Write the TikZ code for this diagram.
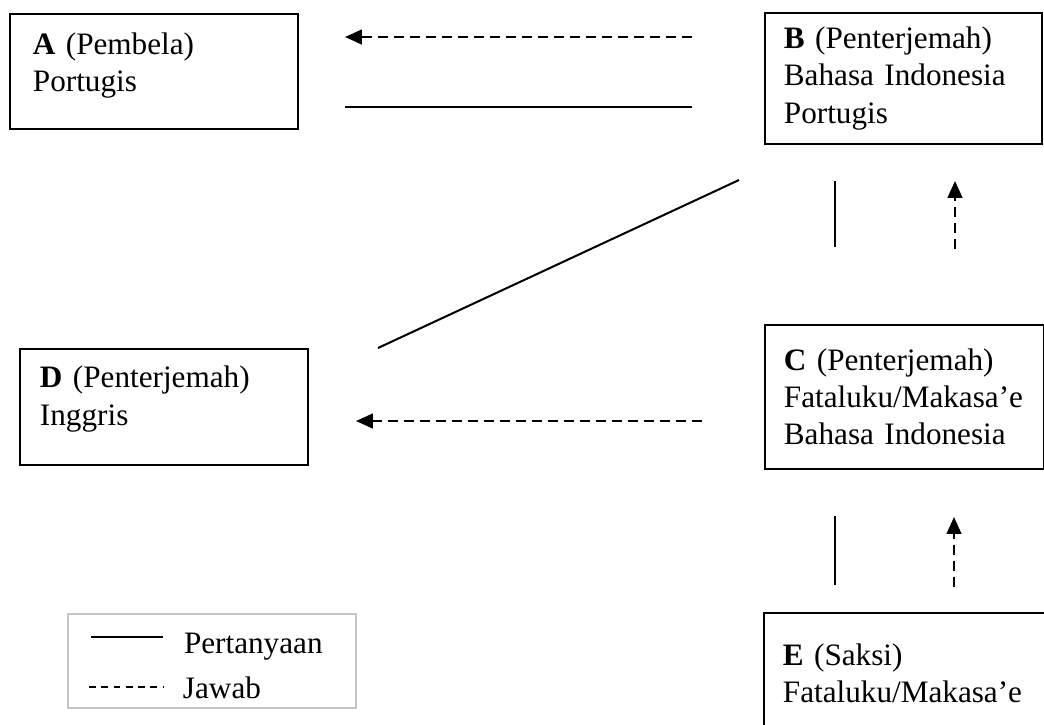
\documentclass[tikz,border=0pt]{standalone}
\usepackage{fontspec}
\setmainfont{Liberation Serif}
\usetikzlibrary{arrows.meta,positioning}
\hyphenpenalty=10000\relax

\begin{document}
\begin{tikzpicture}[x=0.375pt,y=-0.375pt,line width=0.75pt,
   >={Triangle[length=6.3pt,width=5.5pt]},
   every node/.style={font=\fontsize{11.7}{13.9}\selectfont},
   box/.style={draw,rectangle,anchor=north west,align=left,inner ysep=0pt},
   jawab/.style={->,dash pattern=on 3.6pt off 2.4pt}]
   \useasboundingbox (0,0) rectangle (1044,724);
   \clip (0,0) rectangle (1044,724);
   \node[box,inner xsep=8.6pt,text width=90.8pt,minimum height=43.1pt,text depth=20.9pt] (A) at (9,13) {\textbf{A} (Pembela)\\Portugis};
   \node[box,inner xsep=7.1pt,text width=89.7pt,minimum height=49.1pt] (B) at (764,12) {\textbf{B} (Penterjemah)\\Bahasa Indonesia\\Portugis};
   \node[box,inner xsep=7.1pt,text width=90.4pt,minimum height=54pt] (C) at (764,324) {\textbf{C} (Penterjemah)\\Fataluku/Makasa’e\\Bahasa Indonesia};
   \node[box,inner xsep=7.5pt,text width=93pt,minimum height=43.5pt,text depth=22.4pt] (D) at (19,348) {\textbf{D} (Penterjemah)\\Inggris};
   \node[box,inner xsep=7.1pt,text width=97.2pt,minimum height=45pt] (E) at (763,612) {\textbf{E} (Saksi)\\Fataluku/Makasa’e};
   \node[box,draw=gray!45,minimum width=108pt,minimum height=35.25pt,inner sep=0pt] (legenda) at (67,613) {};
   \coordinate (ab1) at (692,37);  \coordinate (ab2) at (345,37);
   \coordinate (ab3) at (345,107); \coordinate (ab4) at (692,107);
   \coordinate (bd1) at (739,180); \coordinate (bd2) at (378,348);
   \coordinate (bc1) at (835,181); \coordinate (bc2) at (835,247);
   \coordinate (bc3) at (955,249); \coordinate (bc4) at (955,181);
   \coordinate (cd1) at (702,421); \coordinate (cd2) at (356,421);
   \coordinate (ce1) at (835,516); \coordinate (ce2) at (835,585);
   \coordinate (ce3) at (954,587); \coordinate (ce4) at (954,517);
   \coordinate (t1) at (91,637);   \coordinate (t2) at (163,637);
   \coordinate (j1) at (89,687);   \coordinate (j2) at (163,687);
   \draw[jawab] (ab1) -- (ab2);
   \draw (ab3) -- (ab4);
   \draw (bd1) -- (bd2);
   \draw (bc1) -- (bc2);
   \draw[jawab] (bc3) -- (bc4);
   \draw[jawab] (cd1) -- (cd2);
   \draw (ce1) -- (ce2);
   \draw[jawab] (ce3) -- (ce4);
   \draw (t1) -- (t2);
   \draw[dash pattern=on 2.6pt off 2pt] (j1) -- (j2);
   \node[anchor=base west,inner sep=0pt] (tanya) at (183,653) {Pertanyaan};
   \node[anchor=base west,inner sep=0pt] (jawab) at (182,698) {Jawab};
\end{tikzpicture}
\end{document}
